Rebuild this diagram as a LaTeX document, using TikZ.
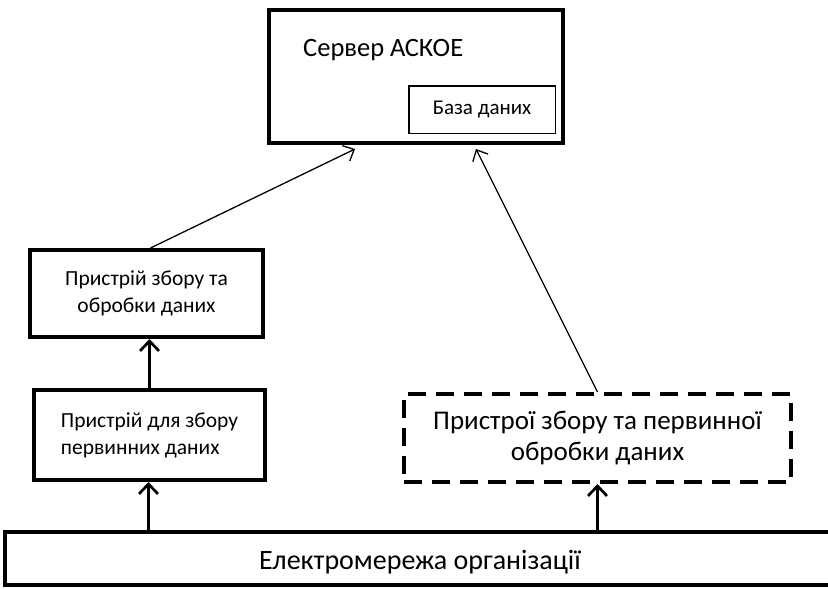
\documentclass[tikz,border=0pt]{standalone}
\usepackage{fontspec}
\setmainfont{Carlito}
\usetikzlibrary{arrows.meta}
\begin{document}
\begin{tikzpicture}[x=1pt,y=-1pt,
  thickbox/.style={draw, line width=4pt, fill=white, inner sep=0pt, anchor=north west},
  dashbox/.style={thickbox, dash pattern=on 18pt off 10pt},
  thinbox/.style={draw, line width=1.5pt, fill=white, inner sep=0pt, anchor=north west},
  thinarrow/.style={line width=1.3pt, -{Straight Barb[length=9pt,width=17pt,line width=1.3pt]}},
  boldarrow/.style={line width=2.7pt, -{Straight Barb[length=10pt,width=19pt,line width=2.7pt]}},
  lbl/.style={inner sep=0pt}
]
\useasboundingbox (0,0) rectangle (828,589);
\node[thickbox, minimum width=294pt, minimum height=133pt] (srv) at (267,8) {};
\node[lbl, anchor=west, font=\fontsize{26.5}{30}\selectfont] (srvt) at (303,50) {Сервер АСКОЕ};
\node[thinbox, minimum width=146.5pt, minimum height=47.5pt, font=\fontsize{21}{25}\selectfont] (db) at (408,85) {База даних};
\node[thickbox, minimum width=233pt, minimum height=87pt, align=center, font=\fontsize{21.5}{27}\selectfont] (b1) at (28,248) {Пристрій збору та\\обробки даних};
\node[thickbox, minimum width=231pt, minimum height=90pt, align=left, font=\fontsize{21.5}{27}\selectfont] (b2) at (32,388) {Пристрій для збору\\первинних даних};
\node[dashbox, minimum width=387pt, minimum height=88pt, align=center, font=\fontsize{27}{31}\selectfont] (pd) at (402,392) {Пристрої збору та первинної\\обробки даних};
\node[thickbox, minimum width=850pt, minimum height=53pt] (net) at (3,530) {};
\node[lbl, font=\fontsize{28}{32}\selectfont] (nett) at (420,562) {Електромережа організації};
\draw[thinarrow] ([xshift=4pt]b1.north) -- ([xshift=-61pt,yshift=-4pt]srv.south);
\draw[thinarrow] (pd.north) -- ([xshift=60pt,yshift=-4pt]srv.south);
\draw[boldarrow] (b2.north) -- (b2.north |- b1.south);
\draw[boldarrow] ([xshift=-1pt]b2.south |- net.north) -- ([xshift=-1pt]b2.south);
\draw[boldarrow] (pd.south |- net.north) -- (pd.south);
\end{tikzpicture}
\end{document}
